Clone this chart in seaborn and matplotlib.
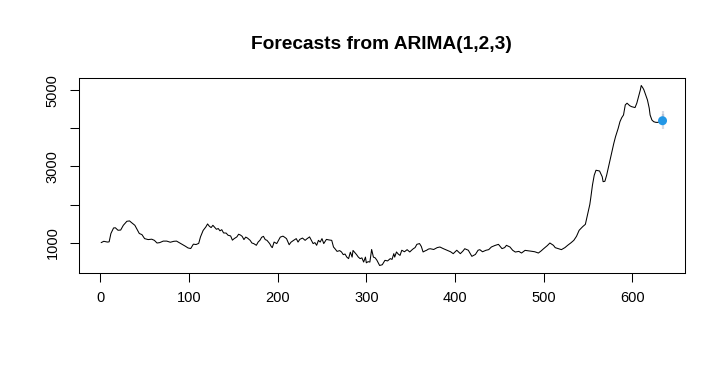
"""Forecast chart: ARIMA(1,2,3) on a daily series, R base-graphics look."""
import matplotlib
matplotlib.use("Agg")
import matplotlib.pyplot as plt
import pandas as pd
import seaborn as sns

sns.set_theme(style="white")
plt.rcParams["font.family"] = ["Liberation Sans", "DejaVu Sans"]
plt.rcParams["text.color"] = "black"

t_obs = [1, 4, 8, 10, 12, 15, 17, 20, 23, 26, 30, 33, 35, 39, 41, 44, 47, 50,
         54, 58, 61, 64, 67, 71, 75, 79, 83, 86, 89, 92, 96, 99,
         102, 105, 108, 111, 113, 116, 119, 121, 123, 125, 127, 131, 133, 135,
         137, 139, 142, 144, 147, 149, 151, 154, 156, 158, 160, 162, 164, 166,
         169, 171, 173, 176, 178, 180, 182, 184, 186, 188, 191, 193, 194, 196,
         199, 201, 203, 206,
         208, 210, 213, 215, 218, 221, 223, 225, 228, 231, 233, 236, 238, 240,
         242, 244, 246, 248, 250, 252, 255, 258, 261, 263, 265, 267, 270, 272,
         274, 276, 278, 280, 282, 284, 285, 287, 289, 291, 293, 295, 297, 299,
         300, 302, 304, 306, 308, 310, 312, 315,
         318, 321, 324, 327, 329, 331, 332, 334, 336, 338, 340, 343, 346, 349,
         351, 353, 355, 357, 360, 362, 364, 366, 368, 370, 372, 376, 380, 383,
         387, 391, 395, 398, 402, 406, 409, 411, 415, 419, 423, 426, 428, 431,
         435, 438, 441, 445, 449, 453, 456, 458, 462, 465, 468, 472, 475, 479,
         483, 487, 490, 494, 497, 500, 504, 507, 511, 513, 517, 520, 524, 527,
         531, 534, 537, 540,
         544, 547, 550, 552, 553, 555, 557, 559, 563, 566, 567, 569, 571, 574,
         577, 579, 581, 584, 586, 588, 590, 591, 592, 594, 597, 599, 603, 605,
         607, 609, 610, 612, 613, 615, 617, 619, 620, 622, 624, 626, 628, 631,
         633]
y_obs = [1000, 1035, 1015, 1020, 1240, 1385, 1390, 1325, 1330, 1455, 1560, 1570,
         1530, 1455, 1370, 1240, 1210, 1105, 1080, 1090, 1060, 990, 1000, 1040,
         1040, 1010, 1035, 1040, 1000, 960, 905, 860,
         845, 960, 950, 980, 1150, 1320, 1410, 1490, 1430, 1395, 1455, 1350,
         1370, 1310, 1340, 1255, 1250, 1195, 1175, 1065, 1105, 1150, 1220, 1200,
         1165, 1080, 1145, 1120, 1060, 990, 975, 930, 1015, 1060, 1140, 1165,
         1080, 1060, 975, 890, 870, 1015, 975, 1060, 1145, 1170,
         1140, 1105, 945, 1010, 1060, 1105, 1015, 1085, 1120, 1060, 1100, 1150,
         1060, 975, 1000, 930, 1060, 1015, 1105, 975, 1085, 1070, 1060, 885,
         830, 770, 790, 755, 685, 700, 620, 580, 750, 620, 795, 740, 685, 620,
         580, 600, 490, 620, 470, 500, 490, 820, 620, 600, 535, 400,
         420, 535, 520, 580, 560, 710, 620, 755, 700, 665, 800, 760, 815, 755,
         800, 840, 870, 955, 975, 900, 755, 780, 800, 830, 840, 820, 870, 885,
         840, 800, 760, 710, 800, 710, 780, 840, 800, 640, 690, 800, 815, 760,
         800, 816, 885, 925, 955, 842, 870, 929, 885, 800, 753, 770, 727, 797,
         785, 771, 760, 727, 780, 842, 920, 990, 929, 868, 840, 816, 870, 929,
         1000, 1061, 1166, 1324,
         1420, 1480, 1800, 2000, 2160, 2510, 2770, 2900, 2880, 2730, 2600, 2610,
         2770, 3080, 3385, 3600, 3780, 4000, 4175, 4280, 4350, 4480, 4615, 4660,
         4595, 4570, 4545, 4660, 4830, 5010, 5125, 5055, 5010, 4880, 4745, 4530,
         4350, 4220, 4175, 4160, 4155, 4170, 4175]

# one-step forecast with its 80% and 95% intervals
t_fc = [634]
y_fc = [4200]
lo80, hi80 = [4080], [4370]
lo95, hi95 = [3990], [4460]

obs = pd.DataFrame({"t": t_obs, "value": y_obs})
fc = pd.DataFrame({"t": t_fc, "value": y_fc})

fig = plt.figure(figsize=(7.24, 3.71), dpi=100)
ax = fig.add_axes([0.1087, 0.265, 0.8374, 0.524])

sns.lineplot(data=obs, x="t", y="value", color="black", linewidth=0.75,
             estimator=None, ax=ax)
ax.vlines(t_fc, lo95, hi95, color="#d5dbe5", linewidth=1.6, zorder=3)
ax.vlines(t_fc, lo80, hi80, color="#b8c2d6", linewidth=1.6, zorder=3)
sns.scatterplot(data=fc, x="t", y="value", color="#2297e6", s=42,
                edgecolor="none", ax=ax, zorder=4)

# R-style 4% padding on both axes
all_t = t_obs + t_fc
all_y = y_obs + lo95 + hi95
xr = max(all_t) - min(all_t)
yr = max(all_y) - min(all_y)
ax.set_xlim(min(all_t) - 0.04 * xr, max(all_t) + 0.04 * xr)
ax.set_ylim(min(all_y) - 0.04 * yr, max(all_y) + 0.04 * yr)

ax.set_xticks([0, 100, 200, 300, 400, 500, 600])
ax.set_yticks([1000, 2000, 3000, 4000, 5000])
ax.set_yticklabels(["1000", "", "3000", "", "5000"])
plt.setp(ax.get_yticklabels(), rotation=90, va="center")
ax.tick_params(direction="out", length=6.5, width=0.75, pad=7,
               labelsize=10.5, colors="black", left=True, bottom=True)
for s in ax.spines.values():
    s.set_color("black")
    s.set_linewidth(0.75)
ax.set_xlabel("")
ax.set_ylabel("")
ax.set_title("Forecasts from ARIMA(1,2,3)", fontsize=13.8, fontweight="bold",
             color="black", pad=21)

fig.savefig("out.png", dpi=100)
